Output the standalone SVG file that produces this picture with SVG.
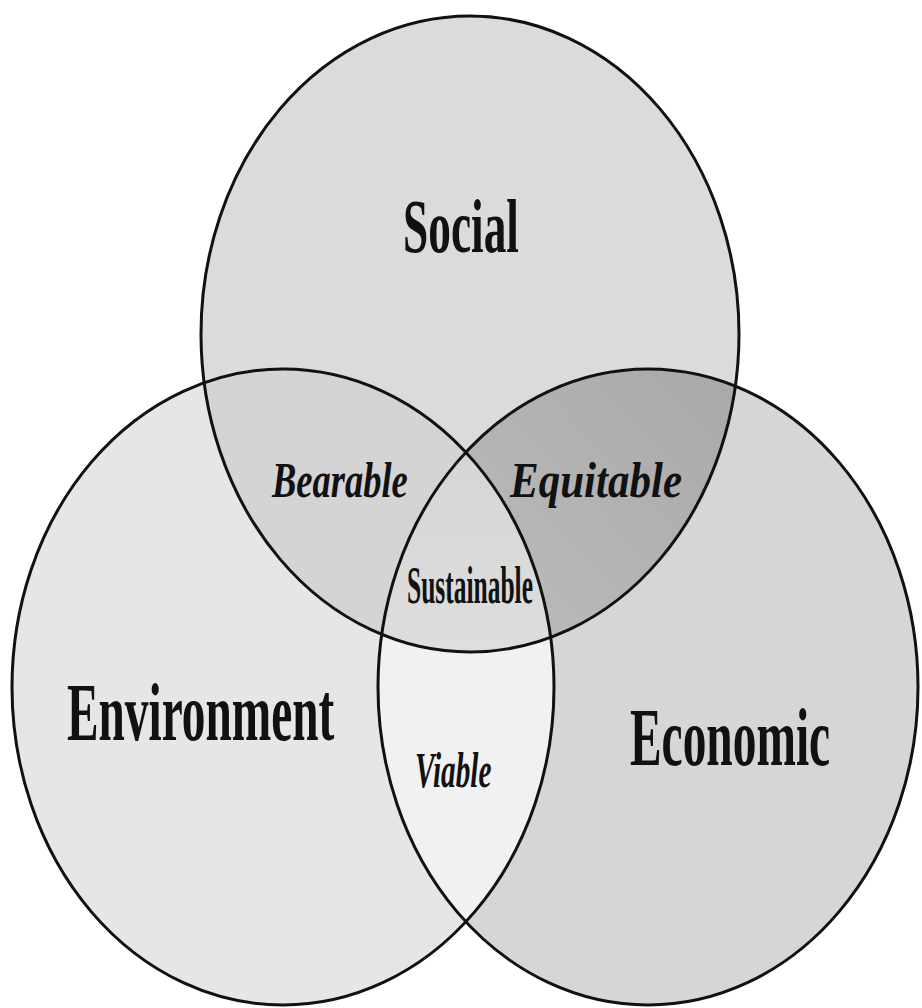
<svg xmlns="http://www.w3.org/2000/svg" width="922" height="1008" viewBox="0 0 922 1008">
  <style>
    .outline { fill: none; stroke: #111; stroke-width: 3; }
    .big { font-family: "Liberation Serif", "Times New Roman", serif; font-weight: bold; fill: #111; }
    .small { font-family: "Liberation Serif", "Times New Roman", serif; font-weight: bold; font-style: italic; fill: #111; }
  </style>
  <defs>
    <ellipse id="eSocial" cx="470" cy="334" rx="269" ry="318"/>
    <ellipse id="eEnv" cx="283" cy="687" rx="271" ry="318"/>
    <ellipse id="eEco" cx="648" cy="687" rx="270" ry="318"/>
    <clipPath id="cSocial"><use href="#eSocial"/></clipPath>
    <clipPath id="cEnv"><use href="#eEnv"/></clipPath>
    <linearGradient id="gEq" x1="0.9" y1="0.1" x2="0.2" y2="0.9">
      <stop offset="0" stop-color="#a6a6a6"/>
      <stop offset="1" stop-color="#c6c6c6"/>
    </linearGradient>
    <linearGradient id="gSus" x1="0" y1="0" x2="0" y2="1">
      <stop offset="0" stop-color="#d2d2d2"/>
      <stop offset="1" stop-color="#ececec"/>
    </linearGradient>
  </defs>
  <rect width="922" height="1008" fill="#ffffff"/>

  <g id="social">
    <use href="#eSocial" fill="#dbdbdb"/>
  </g>
  <g id="environment">
    <use href="#eEnv" fill="#e6e6e6"/>
  </g>
  <g id="economic">
    <use href="#eEco" fill="#d6d6d6"/>
  </g>

  <g id="bearable" clip-path="url(#cSocial)">
    <use href="#eEnv" fill="#d4d4d4"/>
  </g>
  <g id="equitable" clip-path="url(#cSocial)">
    <use href="#eEco" fill="url(#gEq)"/>
  </g>
  <g id="viable" clip-path="url(#cEnv)">
    <use href="#eEco" fill="#f1f1f1"/>
  </g>
  <g id="sustainable" clip-path="url(#cSocial)">
    <g clip-path="url(#cEnv)">
      <use href="#eEco" fill="url(#gSus)"/>
    </g>
  </g>

  <g id="outlines">
    <use href="#eSocial" class="outline"/>
    <use href="#eEnv" class="outline"/>
    <use href="#eEco" class="outline"/>
  </g>

  <g id="labels">
    <text class="big" transform="translate(403,252) scale(0.597,1)" font-size="76">Social</text>
    <text class="big" transform="translate(67,740) scale(0.577,1)" font-size="82">Environment</text>
    <text class="big" transform="translate(630,765) scale(0.578,1)" font-size="82">Economic</text>
    <text class="small" transform="translate(272,497) scale(0.73,1)" font-size="50">Bearable</text>
    <text class="small" transform="translate(510,497) scale(0.86,1)" font-size="50">Equitable</text>
    <text class="big" transform="translate(407,603) scale(0.49,1)" font-size="52">Sustainable</text>
    <text class="small" transform="translate(415,787) scale(0.585,1)" font-size="50">Viable</text>
  </g>
</svg>
